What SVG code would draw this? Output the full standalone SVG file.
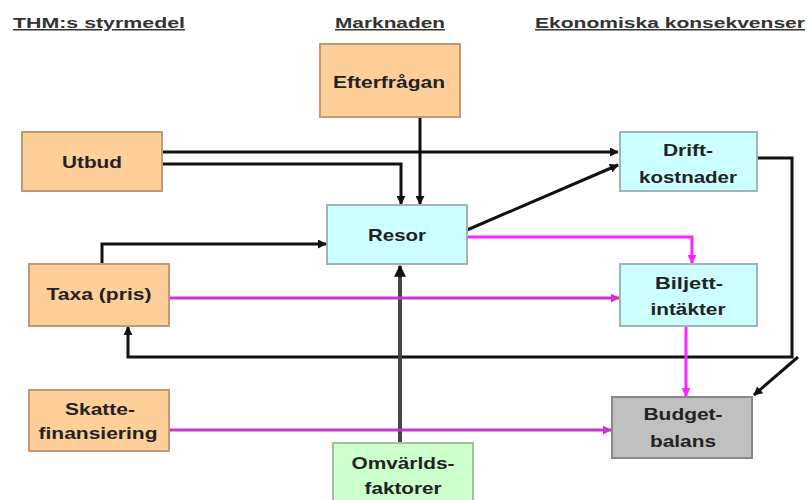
<svg xmlns="http://www.w3.org/2000/svg" width="807" height="500" viewBox="0 0 807 500">
<style>
.hdr{font-family:"Liberation Sans",Arial,sans-serif;font-size:15px;font-weight:bold;fill:#333;text-decoration:underline}
.lbl{font-family:"Liberation Sans",Arial,sans-serif;font-size:17px;font-weight:bold;fill:#222;text-anchor:middle}
.or{fill:#FFCF99;stroke:#C09A78;stroke-width:2}
.cy{fill:#CCFFFF;stroke:#A0B4B4;stroke-width:2}
.gr{fill:#C0C0C0;stroke:#888;stroke-width:2}
.gn{fill:#CCFFCC;stroke:#A0C0A0;stroke-width:2}
.bk{fill:none;stroke:#111;stroke-width:3}
.dk{fill:none;stroke:#444;stroke-width:4}
.pk{fill:none;stroke:#FF22FF;stroke-width:3}
.pk2{fill:none;stroke:#CC33CC;stroke-width:3}
</style>
<defs>
<marker id="ab" viewBox="0 0 10 10" refX="9" refY="5" markerWidth="3" markerHeight="3" orient="auto"><path d="M0,0L10,5L0,10z" fill="#111"/></marker>
<marker id="ap" viewBox="0 0 10 10" refX="9" refY="5" markerWidth="3" markerHeight="3" orient="auto"><path d="M0,0L10,5L0,10z" fill="#FF22FF"/></marker>
<marker id="ap2" viewBox="0 0 10 10" refX="9" refY="5" markerWidth="3" markerHeight="3" orient="auto"><path d="M0,0L10,5L0,10z" fill="#CC33CC"/></marker>
</defs>
<g id="headers">
<text class="hdr" x="13" y="28" textLength="172" lengthAdjust="spacingAndGlyphs">THM:s  styrmedel</text>
<text class="hdr" x="335" y="28" textLength="110" lengthAdjust="spacingAndGlyphs">Marknaden</text>
<text class="hdr" x="535" y="28" textLength="270" lengthAdjust="spacingAndGlyphs">Ekonomiska konsekvenser</text>
</g>
<g id="connectors">
<path class="bk" d="M162,152H618" marker-end="url(#ab)"/>
<path class="bk" d="M162,164H401V204" marker-end="url(#ab)"/>
<path class="bk" d="M420,117V204" marker-end="url(#ab)"/>
<path class="bk" d="M102,264V244H326" marker-end="url(#ab)"/>
<path class="bk" d="M467,230L618,165" marker-end="url(#ab)"/>
<path class="bk" d="M757,158H792V357H128V327" marker-end="url(#ab)"/>
<path class="bk" d="M798,357L754,395" marker-end="url(#ab)"/>
<path class="dk" d="M400,443V266" marker-end="url(#ab)"/>
<path class="pk" d="M467,237H692V263" marker-end="url(#ap)"/>
<path class="pk2" d="M169,298H619" marker-end="url(#ap2)"/>
<path class="pk" d="M686,326V396" marker-end="url(#ap)"/>
<path class="pk2" d="M169,430H611" marker-end="url(#ap2)"/>
</g>
<g id="efterfragan"><rect class="or" x="320" y="44" width="140" height="73"/><text class="lbl" x="389" y="88" textLength="112" lengthAdjust="spacingAndGlyphs">Efterfrågan</text></g>
<g id="utbud"><rect class="or" x="22" y="132" width="140" height="59"/><text class="lbl" x="92" y="168" textLength="60" lengthAdjust="spacingAndGlyphs">Utbud</text></g>
<g id="resor"><rect class="cy" x="327" y="205" width="140" height="59"/><text class="lbl" x="397" y="241" textLength="58" lengthAdjust="spacingAndGlyphs">Resor</text></g>
<g id="drift"><rect class="cy" x="620" y="132" width="137" height="59"/><text class="lbl" x="688" y="156" textLength="50" lengthAdjust="spacingAndGlyphs">Drift-</text><text class="lbl" x="688" y="183" textLength="98" lengthAdjust="spacingAndGlyphs">kostnader</text></g>
<g id="taxa"><rect class="or" x="29" y="264" width="140" height="62"/><text class="lbl" x="99" y="300" textLength="105" lengthAdjust="spacingAndGlyphs">Taxa (pris)</text></g>
<g id="biljett"><rect class="cy" x="620" y="264" width="137" height="62"/><text class="lbl" x="689" y="289" textLength="68" lengthAdjust="spacingAndGlyphs">Biljett-</text><text class="lbl" x="688" y="315" textLength="75" lengthAdjust="spacingAndGlyphs">intäkter</text></g>
<g id="skatte"><rect class="or" x="29" y="390" width="140" height="61"/><text class="lbl" x="100" y="415" textLength="70" lengthAdjust="spacingAndGlyphs">Skatte-</text><text class="lbl" x="98" y="439" textLength="119" lengthAdjust="spacingAndGlyphs">finansiering</text></g>
<g id="budget"><rect class="gr" x="612" y="397" width="140" height="61"/><text class="lbl" x="683" y="420" textLength="79" lengthAdjust="spacingAndGlyphs">Budget-</text><text class="lbl" x="683" y="447" textLength="66" lengthAdjust="spacingAndGlyphs">balans</text></g>
<g id="omvarlds"><rect class="gn" x="333" y="443" width="140" height="60"/><text class="lbl" x="403" y="469" textLength="103" lengthAdjust="spacingAndGlyphs">Omvärlds-</text><text class="lbl" x="403" y="494" textLength="77" lengthAdjust="spacingAndGlyphs">faktorer</text></g>
</svg>
